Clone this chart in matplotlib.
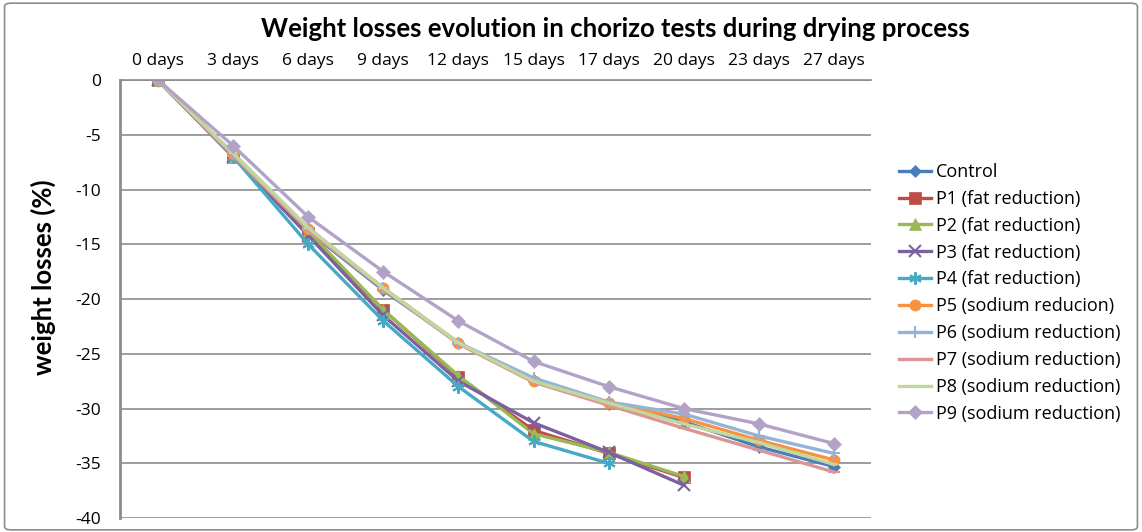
import matplotlib.pyplot as plt
from matplotlib.patches import FancyBboxPatch

plt.rcParams["axes.unicode_minus"] = False

days = ["0 days", "3 days", "6 days", "9 days", "12 days", "15 days",
        "17 days", "20 days", "23 days", "27 days"]

control = [0, -7.0, -13.8, -19.2, -24.0, -27.4, -29.6, -31.2, -33.5, -35.3]
p1 = [0, -7.0, -14.0, -21.0, -27.1, -32.0, -34.1, -36.3]
p2 = [0, -7.0, -13.8, -21.0, -27.0, -32.3, -34.0, -36.2]
p3 = [0, -7.0, -14.2, -21.5, -27.5, -31.3, -34.0, -37.0]
p4 = [0, -7.0, -15.0, -22.0, -28.0, -33.0, -35.0]
p5 = [0, -6.8, -13.6, -19.0, -24.0, -27.5, -29.5, -30.9, -32.9, -34.7]
p6 = [0, -6.7, -13.5, -19.0, -24.0, -27.2, -29.4, -30.5, -32.5, -34.1]
p7 = [0, -6.9, -13.7, -19.1, -24.1, -27.6, -29.7, -31.8, -33.8, -35.8]
p8 = [0, -6.7, -13.5, -19.0, -24.0, -27.5, -29.5, -31.4, -33.1, -35.1]
p9 = [0, -6.0, -12.5, -17.5, -22.0, -25.7, -28.0, -30.0, -31.4, -33.2]

names = ["Control", "P1 (fat reduction)", "P2 (fat reduction)",
         "P3 (fat reduction)", "P4 (fat reduction)", "P5 (sodium reducion)",
         "P6 (sodium reduction)", "P7 (sodium reduction)",
         "P8 (sodium reduction)", "P9 (sodium reduction)"]
series = [control, p1, p2, p3, p4, p5, p6, p7, p8, p9]
colors = ["#4A7EBB", "#BE4B48", "#98B954", "#7D60A0", "#46AAC5",
          "#F69240", "#95B3D7", "#D99694", "#C3D69B", "#B3A2C7"]
markers = ["D", "s", "^", "x", (6, 2, 0), "o", "+", "_", "_", "D"]
msizes = [6, 8, 8, 8, 9, 8, 9, 8, 6, 7]

fig = plt.figure(figsize=(11.42, 5.32), dpi=100)
ax = fig.add_axes([0.1055, 0.0263, 0.6576, 0.8233])

for vals, name, c, m, ms in zip(series, names, colors, markers, msizes):
    line_marker = isinstance(m, tuple) or m in "x+_"
    ax.plot(range(len(vals)), vals, color=c, marker=m, markersize=ms,
            markeredgewidth=1.5 if line_marker else 0.5, linewidth=2.4,
            label=name)

ax.set_xlim(-0.5, 9.5)
ax.set_ylim(-40, 0)
ax.set_xticks(range(len(days)))
ax.set_xticklabels(days)
ax.set_yticks(range(-40, 1, 5))
ax.xaxis.tick_top()
ax.tick_params(axis="x", length=0, pad=8, labelsize=12.5)
ax.tick_params(axis="y", length=0, pad=14, labelsize=12.5)
for lbl in ax.get_xticklabels() + ax.get_yticklabels():
    lbl.set_family("Open Sans")

ax.grid(axis="y", color="#8c8c8c", linewidth=1.2)
ax.set_axisbelow(True)
for side in ["right", "bottom"]:
    ax.spines[side].set_visible(False)
ax.spines["left"].set_color("#8c8c8c")
ax.spines["left"].set_linewidth(2)
ax.spines["top"].set_color("#8c8c8c")
ax.spines["top"].set_linewidth(1.2)

ax.set_ylabel("weight losses (%)", fontsize=18.5, fontweight="bold", family="Lato")
ax.yaxis.set_label_coords(-0.086, 0.55)
fig.text(0.5385, 0.945, "Weight losses evolution in chorizo tests during drying process",
         ha="center", va="center", fontsize=18.5, fontweight="bold", family="Lato")

leg = ax.legend(loc="upper left", bbox_to_anchor=(0.773, 0.724),
                bbox_transform=fig.transFigure, frameon=False,
                prop={"family": "Open Sans", "size": 13},
                handlelength=1.77, handletextpad=0.28, labelspacing=0.49)

border = FancyBboxPatch((0.004, 0.004), 0.992, 0.99, transform=fig.transFigure,
                        boxstyle="round,pad=0,rounding_size=0.006",
                        facecolor="none", edgecolor="#8c8c8c", linewidth=1.2)
fig.patches.append(border)

fig.savefig("out.png", dpi=100)
